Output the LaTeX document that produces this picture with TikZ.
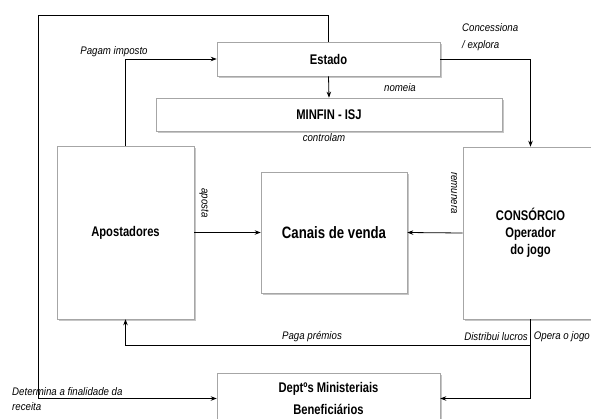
\documentclass[tikz,border=0pt]{standalone}
\usepackage{fontspec}
\setmainfont{Liberation Sans}[FakeStretch=0.88]
\newfontfamily\boxfont{Liberation Sans}[FakeStretch=0.8]
\usetikzlibrary{arrows.meta,shadows}

\begin{document}
\begin{tikzpicture}[x=1pt,y=-1pt,
  box/.style={draw=gray!70,fill=white,line width=0.6pt,
    drop shadow={shadow xshift=1.5pt,shadow yshift=-1.5pt,fill=gray!45,opacity=1},
    font=\boxfont\bfseries\fontsize{14}{17}\selectfont,align=center,inner sep=0pt},
  lbl/.style={font=\fontsize{11}{15}\selectfont\itshape,inner sep=0pt},
  arr/.style={line width=0.8pt,-{Stealth[length=6pt,width=4.5pt]}}]

  \useasboundingbox (0,0) rectangle (591,418);

  % draw boxes
  \node[box,minimum width=223pt,minimum height=34pt] (estado) at (328.5,59) {Estado};
  \node[box,minimum width=346pt,minimum height=33pt] (minfin) at (329,114.5) {MINFIN - ISJ};
  \node[box,minimum width=137pt,minimum height=173pt] (apostadores) at (125.5,232.5) {Apostadores};
  \node[box,minimum width=146pt,minimum height=121pt,font=\boxfont\bfseries\fontsize{16.5}{17}\selectfont] (canais) at (334,232.5) {Canais de venda};
  \node[box,minimum width=135pt,minimum height=172pt] (consorcio) at (530.5,233) {CONSÓRCIO\\Operador\\do jogo};
  \node[box,minimum width=223pt,minimum height=51pt,font=\boxfont\bfseries\fontsize{14}{22}\selectfont] (dept) at (328.5,398.5) {Deptºs Ministeriais\\Beneficiários};

  % corners of the connectors
  \coordinate (topleft) at (38,15);
  \coordinate (premios) at (0,345);

  % draw connectors
  \draw[arr] (apostadores.north) |- (estado.west);
  \draw[arr] (estado.south) -- (minfin.north);
  \draw[arr] (estado.east) -| (consorcio.north);
  \draw[arr] (apostadores.east) -- (canais.west);
  \draw[arr] (consorcio.west) -- (canais.east);
  \draw[arr] (consorcio.south) -- (consorcio.south |- premios) -| (apostadores.south);
  \draw[arr] (consorcio.south) |- (dept.east);
  \draw[arr] (estado.north) |- (topleft) |- (dept.west);

  % labels
  \node[lbl] (imposto) at (114,52) {Pagam imposto};
  \node[lbl,anchor=west,align=left,font=\fontsize{11}{17}\selectfont\itshape] (concessiona) at (462,37.5) {Concessiona\\/ explora};
  \node[lbl] (nomeia) at (400,88) {nomeia};
  \node[lbl] (controlam) at (324,138) {controlam};
  \node[lbl,rotate=-90] (aposta) at (204,203) {aposta};
  \node[lbl,rotate=-90] (remunera) at (454,193) {remunera};
  \node[lbl] (paga) at (312,337) {Paga prémios};
  \node[lbl,anchor=east] (lucros) at (528,337) {Distribui lucros};
  \node[lbl,anchor=east] (opera) at (590,337) {Opera o jogo};
  \node[lbl,anchor=west,align=left] (determina) at (12,399) {Determina a finalidade da\\receita};
\end{tikzpicture}
\end{document}
